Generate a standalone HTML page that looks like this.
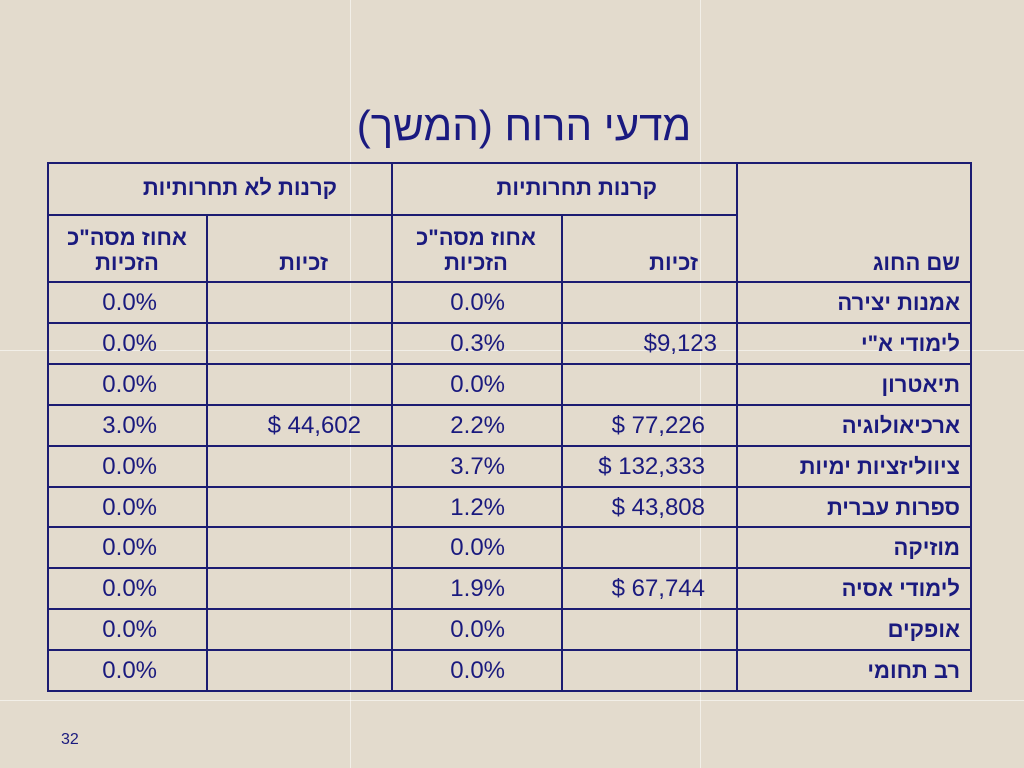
<!DOCTYPE html>
<html><head><meta charset="utf-8">
<style>
body{margin:0;width:1024px;height:768px;overflow:hidden;background:#e3dbcd;font-family:"Liberation Sans","Noto Sans CJK SC",sans-serif;color:#1a1a7e;position:relative}
.gl{position:absolute;background:rgba(255,255,255,0.55)}
.ln{position:absolute;background:#1c1c72}
.t{position:absolute;white-space:nowrap;line-height:1}
.h{font-weight:bold;font-size:22px;direction:rtl}
.v{font-size:24px}
</style></head><body>
<div class="gl" style="left:350px;top:0;width:1px;height:768px"></div>
<div class="gl" style="left:700px;top:0;width:1px;height:768px"></div>
<div class="gl" style="left:0;top:350px;width:1024px;height:1px"></div>
<div class="gl" style="left:0;top:700px;width:1024px;height:1px"></div>
<div class="t" style="left:0;width:1048px;text-align:center;top:105px;font-size:42px;color:#1a1a80;direction:rtl">מדעי הרוח (המשך)</div>
<div id="tbl"></div>
<div class="t" style="left:61px;top:732px;font-size:16px">32</div>
<script>
const names=["אמנות יצירה","לימודי א\"י","תיאטרון","ארכיאולוגיה","ציווליזציות ימיות","ספרות עברית","מוזיקה","לימודי  אסיה","אופקים","רב תחומי"];
const compAmt=["","$9,123","","$ 77,226","$ 132,333","$ 43,808","","$ 67,744","",""];
const compPct=["0.0%","0.3%","0.0%","2.2%","3.7%","1.2%","0.0%","1.9%","0.0%","0.0%"];
const nonAmt=["","","","$ 44,602","","","","","",""];
const nonPct=["0.0%","0.0%","0.0%","3.0%","0.0%","0.0%","0.0%","0.0%","0.0%","0.0%"];
const T=document.getElementById('tbl');
function add(cls,style,txt,name){const d=document.createElement('div');d.className=cls;d.style.cssText=style;if(txt!==undefined)d.textContent=txt;


T.appendChild(d);return d;}
const L=47,R=970,TOP=162,H1=214,H2=281,BOT=690;
const rowH=(BOT-H2)/10;
add('ln',`left:${L}px;top:${TOP}px;width:${R-L+2}px;height:2px`,undefined,'table-border-top');
add('ln',`left:${L}px;top:${H1}px;width:${736-L}px;height:2px`,undefined,'header-divider');
for(let i=0;i<=10;i++){add('ln',`left:${L}px;top:${Math.round(H2+i*rowH)}px;width:${R-L+2}px;height:2px`,undefined,'row-line');}
[[L,TOP],[206,H1],[391,TOP],[561,H1],[736,TOP],[R,TOP]].forEach(([x,y])=>add('ln',`left:${x}px;top:${y}px;width:2px;height:${BOT-y+2}px`,undefined,'column-line'));
add('t h',`right:${1024-657}px;top:177px`,'קרנות תחרותיות','header-competitive');
add('t h',`right:${1024-337}px;top:177px`,'קרנות לא תחרותיות','header-noncompetitive');
add('t h',`right:${1024-960}px;top:252px`,'שם החוג','header-name');
add('t h',`right:${1024-698}px;top:252px`,'זכיות','header-comp-wins');
add('t h',`right:${1024-328}px;top:252px`,'זכיות','header-non-wins');
add('t h',`left:401px;width:150px;text-align:center;top:225px;line-height:1.15;white-space:normal`,'אחוז מסה"כ הזכיות','header-comp-pct');
add('t h',`left:52px;width:150px;text-align:center;top:225px;line-height:1.15;white-space:normal`,'אחוז מסה"כ הזכיות','header-non-pct');
for(let i=0;i<10;i++){
 const y=Math.round(H2+i*rowH+10);
 add('t h',`right:${1024-960}px;top:${y+1}px`,names[i],'row-name');
 if(compAmt[i])add('t v',`right:${1024-(compAmt[i].startsWith('$ ')?705:717)}px;top:${y}px`,compAmt[i],'comp-amount');
 add('t v',`right:${1024-505}px;top:${y}px`,compPct[i],'comp-percent');
 if(nonAmt[i])add('t v',`right:${1024-361}px;top:${y}px`,nonAmt[i],'non-amount');
 add('t v',`right:${1024-157}px;top:${y}px`,nonPct[i],'non-percent');
}
</script>
</body></html>
